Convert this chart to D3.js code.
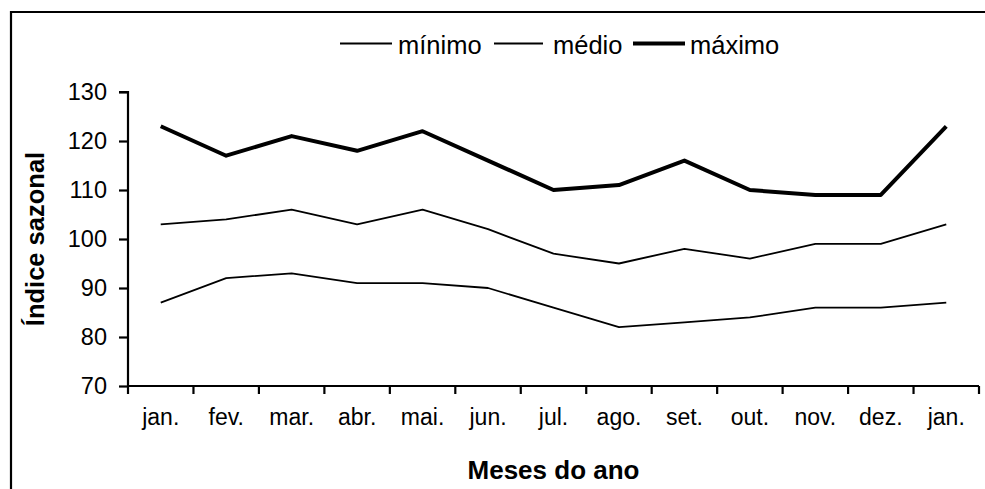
<!DOCTYPE html>
<html><head><meta charset="utf-8">
<script src="https://cdn.jsdelivr.net/npm/d3@7"></script>
<style>body{margin:0;background:#fff}svg{display:block}text{font-family:"Liberation Sans",Arial,sans-serif;fill:#000}</style>
</head><body>
<svg id="c" width="985" height="489"></svg>
<script>
const months = ["jan.","fev.","mar.","abr.","mai.","jun.","jul.","ago.","set.","out.","nov.","dez.","jan."];
const minimo = [87,92,93,91,91,90,86,82,83,84,86,86,87];
const medio  = [103,104,106,103,106,102,97,95,98,96,99,99,103];
const maximo = [123,117,121,118,122,116,110,111,116,110,109,109,123];
const yTicks = [70,80,90,100,110,120,130];
const seriesNames = ["mínimo","médio","máximo"];

const svg = d3.select("#c");
const W=985,H=489;
const m={left:128,right:6,top:92,bottom:103};
const x = d3.scaleBand().domain(d3.range(months.length)).range([m.left, W-m.right]);
const y = d3.scaleLinear().domain([70,130]).range([H-m.bottom, m.top]);
const FF='"Liberation Sans",Arial,sans-serif';

// frame
svg.append("path").attr("d",`M11,489 V12 H985`).attr("fill","none").attr("stroke","#000").attr("stroke-width",2.2);

// y axis
const ya = svg.append("g").attr("transform",`translate(${m.left},0)`)
  .call(d3.axisLeft(y).tickValues(yTicks).tickSize(9).tickPadding(12));
ya.select(".domain").attr("stroke-width",2.2).attr("d",`M-9,${y(130)}H0V${y(70)}`);
ya.selectAll(".tick line").attr("stroke-width",2.2);
ya.selectAll("text").attr("font-size",23.5).style("font-family",FF);

// x axis
const xa = svg.append("g").attr("transform",`translate(0,${y(70)})`)
  .call(d3.axisBottom(x).tickFormat(i=>months[i]).tickSize(0).tickPadding(23));
xa.select(".domain").attr("stroke-width",2.2).attr("d",`M${m.left},0H${W-m.right}`);
xa.selectAll("text").attr("font-size",23).style("font-family",FF);
const bounds = d3.range(months.length+1).map(i=> i<months.length ? x(i) : x(months.length-1)+x.bandwidth());
svg.append("g").selectAll("line").data(bounds).join("line")
  .attr("x1",d=>d).attr("x2",d=>d).attr("y1",y(70)).attr("y2",y(70)+8)
  .attr("stroke","#000").attr("stroke-width",2.2);

// lines
const line = d3.line().x((d,i)=>x(i)+x.bandwidth()/2).y(d=>y(d));
const data = [minimo, medio, maximo];
const widths = [1.8,1.8,4];
svg.append("g").selectAll("path").data(data).join("path")
  .attr("d",line).attr("fill","none").attr("stroke","#000")
  .attr("stroke-width",(d,i)=>widths[i]).attr("stroke-linejoin","round");

// legend
const legX=[340,494,633];
const legW=[52,49,52];
const legT=[398,553,690];
const lg = svg.append("g");
seriesNames.forEach((n,i)=>{
  lg.append("line").attr("x1",legX[i]).attr("x2",legX[i]+legW[i]).attr("y1",43.5).attr("y2",43.5)
    .attr("stroke","#000").attr("stroke-width",widths[i]);
  lg.append("text").attr("x",legT[i]).attr("y",53.5).attr("font-size",25.5).text(n);
});

// axis titles
svg.append("text").attr("x",(m.left+W-m.right)/2).attr("y",479).attr("text-anchor","middle")
  .attr("font-size",26).attr("font-weight","bold").text("Meses do ano");
svg.append("text").attr("transform",`translate(44,${(y(70)+y(130))/2}) rotate(-90)`)
  .attr("text-anchor","middle").attr("font-size",25.5).attr("font-weight","bold").text("Índice sazonal");
</script>
</body></html>
